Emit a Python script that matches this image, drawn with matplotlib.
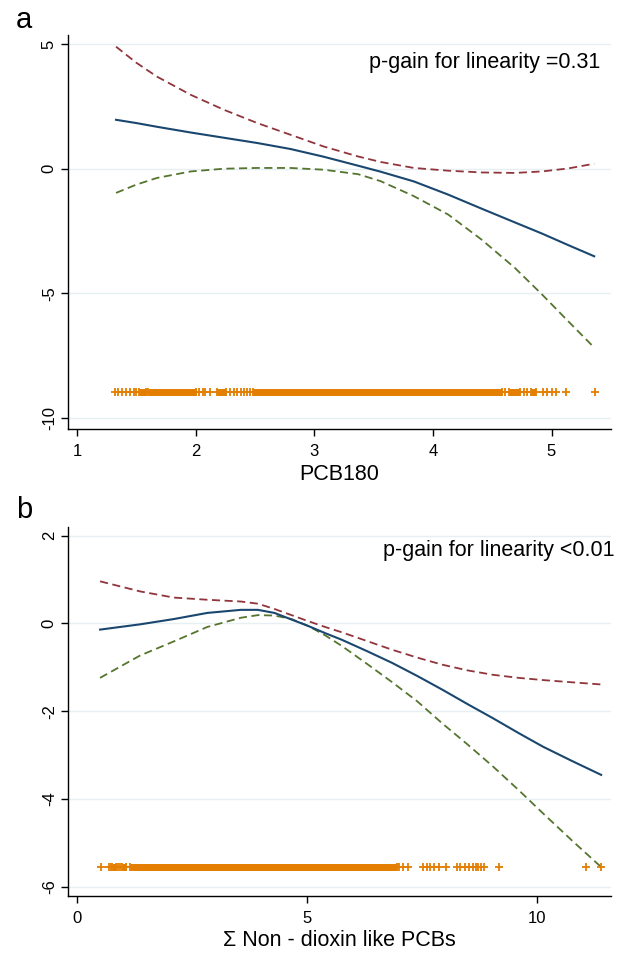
import matplotlib
matplotlib.use("Agg")
import matplotlib.pyplot as plt

plt.rcParams['font.family'] = ['Liberation Sans', 'DejaVu Sans']

# ---- panel a : PCB180 ----
a_x = [1.33, 1.5, 1.675, 1.96, 2.24, 2.52, 2.80, 3.08, 3.37, 3.56, 3.84, 4.13, 4.41, 4.69, 4.92, 5.14, 5.36]
a_fit = [1.96, 1.83, 1.68, 1.45, 1.24, 1.03, 0.79, 0.48, 0.12, -0.12, -0.51, -1.04, -1.6, -2.15, -2.6, -3.06, -3.51]
a_upper = [4.89, 4.25, 3.69, 2.96, 2.36, 1.83, 1.36, 0.89, 0.49, 0.27, 0.03, -0.08, -0.15, -0.17, -0.11, 0.01, 0.2]
a_lower = [-0.97, -0.64, -0.37, -0.11, 0.0, 0.03, 0.03, -0.04, -0.22, -0.5, -1.1, -1.84, -2.84, -3.97, -5.04, -6.11, -7.17]
# single observations (rug) and stretches packed so densely they merge into a bar
a_rug = [1.32, 1.35, 1.38, 1.41, 1.45, 1.48, 1.50, 2.03, 2.06, 2.08, 2.125, 2.29, 2.32,
         2.35, 2.38, 2.41, 2.43, 2.455, 4.61, 4.765, 4.795, 4.93, 4.96, 5.0, 5.035, 5.12, 5.365]
a_rug_dense = [(1.525, 1.58), (1.60, 2.005), (2.185, 2.26), (2.485, 4.585),
               (4.645, 4.735), (4.825, 4.87)]

# ---- panel b : sum of non dioxin-like PCBs ----
b_x = [0.5, 1.37, 2.10, 2.83, 3.56, 3.93, 4.29, 4.66, 5.03, 5.39, 5.75, 6.30, 6.85, 7.4, 7.94, 8.49, 9.04, 9.6, 10.13, 10.75, 11.39]
b_fit = [-0.14, -0.02, 0.1, 0.24, 0.31, 0.31, 0.24, 0.09, -0.06, -0.22, -0.37, -0.63, -0.9, -1.2, -1.51, -1.84, -2.16, -2.5, -2.81, -3.13, -3.45]
b_upper = [0.96, 0.73, 0.59, 0.54, 0.5, 0.45, 0.33, 0.19, 0.05, -0.08, -0.2, -0.4, -0.6, -0.78, -0.94, -1.07, -1.17, -1.24, -1.29, -1.34, -1.39]
b_lower = [-1.24, -0.73, -0.41, -0.08, 0.13, 0.19, 0.18, 0.1, -0.06, -0.27, -0.51, -0.92, -1.34, -1.78, -2.28, -2.76, -3.26, -3.8, -4.33, -4.94, -5.55]
b_rug = [0.52, 0.69, 0.73, 0.89, 0.93, 6.99, 7.08, 7.19, 7.52, 7.6, 7.67, 7.75, 7.86,
         8.02, 8.25, 8.33, 8.42, 8.52, 8.6, 8.66, 8.71, 8.77, 8.84, 9.16, 11.07, 11.39]
b_rug_dense = [(0.76, 0.85), (0.97, 1.07), (1.15, 6.95)]

NAVY = '#1a476f'
MAROON = '#90353b'
GREEN = '#55752f'
ORANGE = '#e37e00'
GRID = '#e6eff1'

fig = plt.figure(figsize=(6.17, 9.58), dpi=100)
ax_a = fig.add_axes([0.110, 0.552, 0.880, 0.4115])
ax_b = fig.add_axes([0.110, 0.0647, 0.880, 0.3853])


def style(ax, yticks, xticks):
    for s in ['top', 'right']:
        ax.spines[s].set_visible(False)
    for s in ['left', 'bottom']:
        ax.spines[s].set_linewidth(1.0)
    ax.set_yticks(yticks)
    ax.set_xticks(xticks)
    ax.set_yticklabels([str(t) for t in yticks], rotation=90, va='center')
    ax.tick_params(axis='both', labelsize=12, length=5, width=1.0, colors='black')
    ax.tick_params(axis='y', pad=3)
    ax.tick_params(axis='x', pad=6)
    for t in yticks:
        ax.axhline(t, color=GRID, lw=1.0, zorder=0)


def draw(ax, x, fit, upper, lower, rug, dense, rug_y):
    ax.plot(x, upper, color=MAROON, lw=1.3, dashes=(4.5, 2.5))
    ax.plot(x, lower, color=GREEN, lw=1.3, dashes=(4.5, 2.5))
    ax.plot(x, fit, color=NAVY, lw=1.5)
    for lo, hi in dense:
        ax.hlines(rug_y, lo, hi, color=ORANGE, lw=5)
        ax.plot([lo, hi], [rug_y, rug_y], linestyle='none', marker='+',
                color=ORANGE, markersize=5.5, markeredgewidth=1.3)
    ax.plot(rug, [rug_y] * len(rug), linestyle='none', marker='+',
            color=ORANGE, markersize=5.5, markeredgewidth=1.3)


draw(ax_a, a_x, a_fit, a_upper, a_lower, a_rug, a_rug_dense, -8.95)
ax_a.set_xlim(0.924, 5.50)
ax_a.set_ylim(-10.44, 5.36)
style(ax_a, [-10, -5, 0, 5], [1, 2, 3, 4, 5])
ax_a.set_xlabel('PCB180', fontsize=15.5, labelpad=3)
ax_a.text(0.98, 0.929, 'p-gain for linearity =0.31', transform=ax_a.transAxes,
          ha='right', va='center', fontsize=15.5)

draw(ax_b, b_x, b_fit, b_upper, b_lower, b_rug, b_rug_dense, -5.54)
ax_b.set_xlim(-0.2, 11.6)
ax_b.set_ylim(-6.21, 2.2)
style(ax_b, [-6, -4, -2, 0, 2], [0, 5, 10])
ax_b.set_xlabel('Σ Non - dioxin like PCBs', fontsize=15.5, labelpad=3)
ax_b.text(1.007, 0.935, 'p-gain for linearity <0.01', transform=ax_b.transAxes,
          ha='right', va='center', fontsize=15.5)

fig.text(0.0255, 0.9705, 'a', fontsize=21, ha='left', va='baseline')
fig.text(0.0255, 0.459, 'b', fontsize=21, ha='left', va='baseline')

fig.savefig('out.png', dpi=100)
